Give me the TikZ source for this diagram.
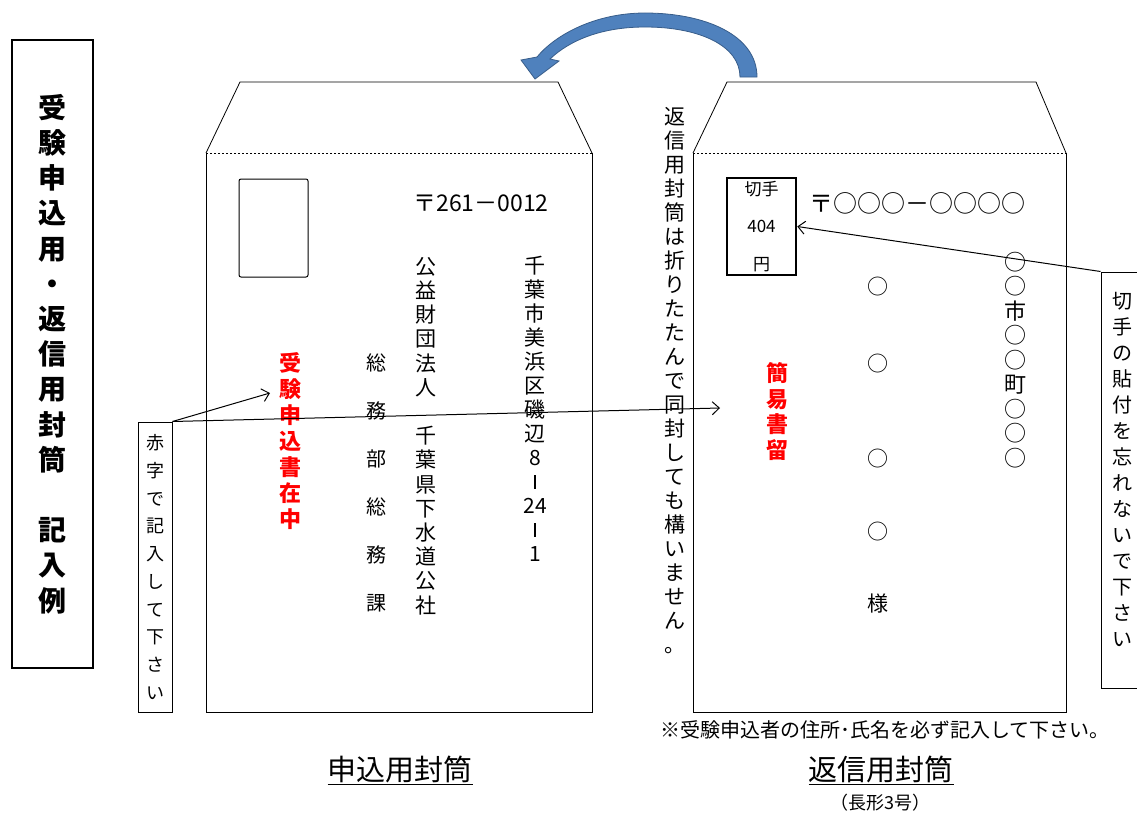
\documentclass[tikz,border=0pt]{standalone}
\usepackage{fontspec}
\setmainfont{Noto Sans CJK JP}
\usetikzlibrary{arrows.meta}

\begin{document}
\begin{tikzpicture}[x=1pt, y=-1pt, line width=1pt,
    col/.style={inner sep=0pt, align=center},
    redcol/.style={col, text=red, font=\bfseries\fontsize{22}{26}\selectfont},
    fold/.style={dash pattern=on 2pt off 2pt},
    pointer/.style={-{Straight Barb[length=7pt,width=13pt]}},
    bluearrow/.style={fill={rgb,255:red,79;green,129;blue,189}, draw={rgb,255:red,56;green,93;blue,138}, line width=0.8pt}]
      \useasboundingbox (0,0) rectangle (1137,816);

      \node[draw, line width=2.5pt, minimum width=81pt, minimum height=628pt, col, font=\bfseries\fontsize{28}{35.2}\selectfont] (titlebox) at (52.5,354) {受\\験\\申\\込\\用\\・\\返\\信\\用\\封\\筒\\[35.2pt]記\\入\\例};

      \draw (206,153) -- (206,712) -- (592,712) -- (592,153);
      \draw[line width=0.8pt] (206,153) -- (240,82) -- (558,82) -- (592,153);
      \draw[fold] (206,153) -- (592,153);
      \draw (693,153) -- (693,712) -- (1066,712) -- (1066,153);
      \draw[line width=0.8pt] (693,153) -- (727,82) -- (1036,82) -- (1066,153);
      \draw[fold] (693,153) -- (1066,153);

      \fill[bluearrow] (757,77) .. controls (757,35) and (705,13) .. (645,13) .. controls (595,13) and (555,35) .. (537,57) -- (521,60) -- (535,79) -- (559,61) -- (550,59) .. controls (570,40) and (602,27) .. (645,27) .. controls (700,27) and (740,46) .. (740,77) -- cycle;

      \node[draw, rounded corners=2pt, minimum width=69pt, minimum height=98pt] (stampspace) at (273.5,228) {};
      \node[font=\fontsize{23}{24}\selectfont] (zipA) at (481,203) {〒261－0012};
      \node[col, font=\fontsize{21}{24}\selectfont] (addrA) at (535,409) {千\\葉\\市\\美\\浜\\区\\磯\\辺\\8\\\raisebox{1pt}{\rule{1.3pt}{14pt}}\\24\\\raisebox{1pt}{\rule{1.3pt}{14pt}}\\1};
      \node[col, font=\fontsize{21}{24.2}\selectfont] (corpA) at (426,436) {公\\益\\財\\団\\法\\人\\[24.2pt]千\\葉\\県\\下\\水\\道\\公\\社};
      \node[col, font=\fontsize{20}{48}\selectfont] (deptA) at (376,483) {総\\務\\部\\総\\務\\課};
      \node[redcol] (redA) at (290,441) {受\\験\\申\\込\\書\\在\\中};

      \node[draw, minimum width=34pt, minimum height=290pt, col, font=\fontsize{18}{27.7}\selectfont] (akaji) at (155,567) {赤\\字\\で\\記\\入\\し\\て\\下\\さ\\い};
      \coordinate (tipA) at (270,393);
      \coordinate (tipB) at (720,408);
      \draw[pointer] (akaji.north east) -- (tipA);
      \draw[pointer] (akaji.north east) -- (tipB);

      \node[col, font=\fontsize{21}{24}\selectfont] (foldnote) at (675,381) {返\\信\\用\\封\\筒\\は\\折\\り\\た\\た\\ん\\で\\同\\封\\し\\て\\も\\構\\い\\ま\\せ\\ん\\。};

      \node[draw, line width=2.5pt, minimum width=69pt, minimum height=97pt, col, font=\fontsize{17}{37.5}\selectfont] (stamp) at (761.5,226.5) {切手\\404\\円};
      \node[font=\fontsize{24}{26}\selectfont] (zipB) at (917,203) {〒○○○－○○○○};
      \node[col, font=\fontsize{22}{24.5}\selectfont] (addrB) at (1015,360) {○\\○\\市\\○\\○\\町\\○\\○\\○};
      \node[col, font=\fontsize{21}{24}\selectfont] (nameB) at (878,445.5) {○\\[53pt]○\\[71pt]○\\[49pt]○\\[48pt]様};
      \node[redcol, font=\bfseries\fontsize{22}{25.7}\selectfont] (redB) at (777,411.5) {簡\\易\\書\\留};

      \node[draw, minimum width=50pt, minimum height=416pt] (kittenote) at (1126,480) {};
      \node[col, font=\fontsize{20}{26}\selectfont] (kittetext) at (1122,469) {切\\手\\の\\貼\\付\\を\\忘\\れ\\な\\い\\で\\下\\さ\\い};
      \draw[pointer] (kittenote.north west) -- (stamp.east);

      \node[font=\fontsize{20}{22}\selectfont] (caution) at (885,730) {※受験申込者の住所･氏名を必ず記入して下さい。};
      \node[font=\fontsize{29}{32}\selectfont] (labelA) at (400,770) {\underline{申込用封筒}};
      \node[font=\fontsize{29}{32}\selectfont] (labelB) at (881,770) {\underline{返信用封筒}};
      \node[font=\fontsize{18}{20}\selectfont] (sizeB) at (880,803) {（長形3号）};

   \end{tikzpicture}
\end{document}
